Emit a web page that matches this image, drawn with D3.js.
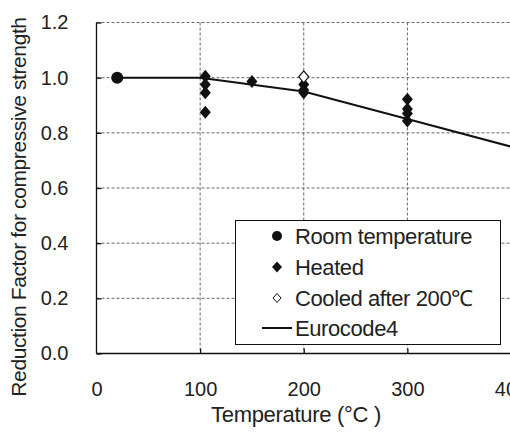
<!DOCTYPE html>
<html><head><meta charset="utf-8">
<script src="https://cdn.jsdelivr.net/npm/d3@7"></script>
<style>body{margin:0;background:#fff}svg{display:block;font-family:"Liberation Sans",Arial,sans-serif}</style>
</head><body><svg id="c" width="510" height="434"></svg>
<script>
const xTicks = [0, 100, 200, 300, 400];
const yTicks = [0.0, 0.2, 0.4, 0.6, 0.8, 1.0, 1.2];
const roomTemp = [{t: 20, r: 1.0}];
const heated = [
  {t: 105, r: 1.005}, {t: 105, r: 0.975}, {t: 105, r: 0.945}, {t: 105, r: 0.875},
  {t: 150, r: 0.986},
  {t: 200, r: 0.975}, {t: 200, r: 0.955}, {t: 200, r: 0.945},
  {t: 300, r: 0.922}, {t: 300, r: 0.886}, {t: 300, r: 0.87}, {t: 300, r: 0.843}
];
const cooled = [{t: 200, r: 1.003}];
const eurocode = [{t: 20, r: 1.0}, {t: 100, r: 1.0}, {t: 200, r: 0.95}, {t: 300, r: 0.85}, {t: 400, r: 0.75}, {t: 500, r: 0.6}];
const legendItems = ["Room temperature", "Heated", "Cooled after 200℃", "Eurocode4"];

const svg = d3.select("#c");
const x = d3.scaleLinear().domain([0, 400]).range([96.5, 511]);
const y = d3.scaleLinear().domain([0, 1.2]).range([353.5, 22.5]);
const X0 = x(0), Y0 = y(0), W = 600;
const fs = 20;

// grid
const g = svg.append("g");
g.selectAll("line.h").data(yTicks.filter(d => d > 0)).join("line")
  .attr("x1", X0).attr("x2", W).attr("y1", d => y(d)).attr("y2", d => y(d))
  .attr("stroke", "#666").attr("stroke-width", 1).attr("stroke-dasharray", "3,2");
g.selectAll("line.v").data(xTicks.filter(d => d > 0)).join("line")
  .attr("x1", d => x(d)).attr("x2", d => x(d)).attr("y1", y(1.2)).attr("y2", Y0)
  .attr("stroke", "#666").attr("stroke-width", 1).attr("stroke-dasharray", "3,2");

// axes
const yAxis = d3.axisLeft(y).tickValues(yTicks).tickSize(-5).tickPadding(28).tickFormat(d3.format(".1f"));
const ya = svg.append("g").attr("transform", `translate(${X0},0)`).call(yAxis);
const xAxis = d3.axisBottom(x).tickValues(xTicks).tickSize(-5).tickPadding(28).tickFormat(d3.format("d"));
const xa = svg.append("g").attr("transform", `translate(0,${Y0})`).call(xAxis);
[ya, xa].forEach(a => {
  a.select(".domain").attr("stroke", "#111").attr("stroke-width", 1.3);
  a.selectAll(".tick line").attr("stroke", "#111").attr("stroke-width", 1.3);
  a.selectAll(".tick text").attr("font-size", fs).attr("fill", "#222").attr("font-family", "Liberation Sans, Arial, sans-serif");
});
xa.select(".domain").attr("d", `M${X0},0H${W}`);
ya.select(".domain").attr("d", `M0,${y(1.2)}V${Y0}`);
xa.selectAll(".tick").filter(d => d === 0).select("line").remove();

// eurocode line
const line = d3.line().x(d => x(d.t)).y(d => y(d.r));
svg.append("path").datum(eurocode).attr("d", line).attr("fill", "none").attr("stroke", "#111").attr("stroke-width", 2);

const diamond = (cx, cy, w, h) => `M${cx},${cy - h}L${cx + w},${cy}L${cx},${cy + h}L${cx - w},${cy}Z`;
svg.selectAll("path.heated").data(heated).join("path")
  .attr("d", d => diamond(x(d.t), y(d.r), 5.5, 6.5)).attr("fill", "#111");
svg.selectAll("path.cooled").data(cooled).join("path")
  .attr("d", d => diamond(x(d.t), y(d.r), 5, 6)).attr("fill", "#fff").attr("stroke", "#111").attr("stroke-width", 1.2);
svg.selectAll("circle.room").data(roomTemp).join("circle")
  .attr("cx", d => x(d.t)).attr("cy", d => y(d.r)).attr("r", 6).attr("fill", "#111");

// legend
const lg = svg.append("g");
lg.append("rect").attr("x", 235.5).attr("y", 220.5).attr("width", 265).attr("height", 124)
  .attr("fill", "#fff").attr("stroke", "#111").attr("stroke-width", 1);
const ly = [236, 267, 298, 328];
legendItems.forEach((t, i) => {
  lg.append("text").attr("x", 295).attr("y", ly[i]).attr("dy", "0.36em")
    .attr("font-size", 22).attr("fill", "#222").attr("letter-spacing", "-0.4").text(t);
});
lg.append("circle").attr("cx", 277).attr("cy", ly[0]).attr("r", 5).attr("fill", "#111");
lg.append("path").attr("d", diamond(277, ly[1], 5, 5.5)).attr("fill", "#111");
lg.append("path").attr("d", diamond(277, ly[2], 4, 4.5)).attr("fill", "#fff").attr("stroke", "#111").attr("stroke-width", 1);
lg.append("line").attr("x1", 262).attr("x2", 292).attr("y1", ly[3]).attr("y2", ly[3]).attr("stroke", "#111").attr("stroke-width", 2);

// titles
svg.append("text").attr("x", 296).attr("y", 422).attr("text-anchor", "middle")
  .attr("font-size", 22).attr("fill", "#222").attr("letter-spacing", "-0.3").text("Temperature (°C )");
svg.append("text").attr("transform", "translate(26,207) rotate(-90)").attr("text-anchor", "middle")
  .attr("font-size", 21).attr("fill", "#222").attr("letter-spacing", "-0.4").text("Reduction Factor for compressive strength");
</script></body></html>
